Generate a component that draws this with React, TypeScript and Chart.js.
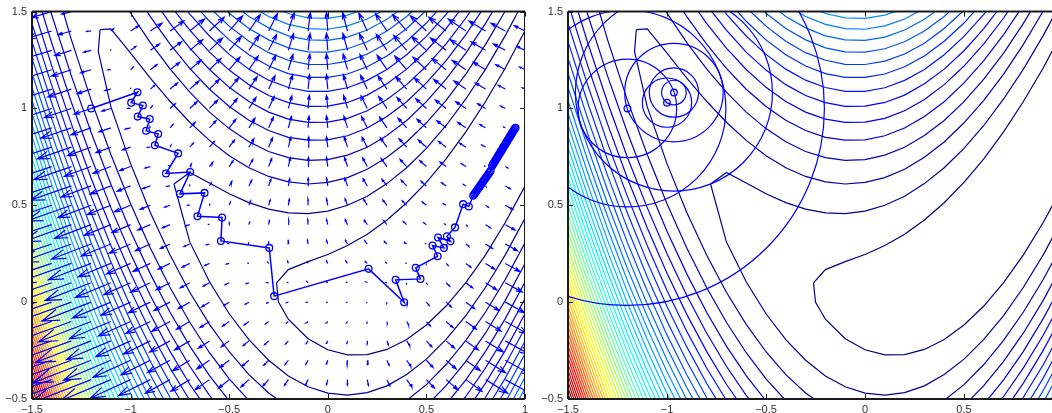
import React, { useEffect, useRef } from "react";
import { Chart, registerables } from "chart.js";

Chart.register(...registerables);

// ---- tick labels
const xTicks = [-1.5, -1, -0.5, 0, 0.5, 1];
const yTicks = [-0.5, 0, 0.5, 1, 1.5];
const levelCount = 50;

// ---- contour branches: [level, first x, y at x, y at x+0.1, ...]
const lowerRows: number[][] = [
  [1, -0.2, -0.088, -0.189, -0.246, -0.272, -0.271, -0.244, -0.193, -0.118, -0.02, 0.101, 0.244, 0.411, 0.599],
  [2, -0.7, 0.311, 0.105, -0.06, -0.194, -0.3, -0.381, -0.437, -0.47, -0.48, -0.467, -0.432, -0.374, -0.294, -0.192, -0.069, 0.077, 0.244, 0.433],
  [3, -1.1, 1.009, 0.715, 0.463, 0.243, 0.051, -0.115, -0.256, -0.374, -0.469, -0.541, -0.59, -0.618, -0.623, -0.606, -0.568, -0.507, -0.426, -0.322, -0.197, -0.051, 0.117, 0.306],
  [4, -1.4, 1.703, 1.354, 1.043, 0.762, 0.508, 0.28, 0.076, -0.104, -0.261, -0.396, -0.508],
  [4, 0.4, -0.618, -0.535, -0.431, -0.306, -0.159, 0.009, 0.199],
  [5, -1.5, 1.829, 1.484, 1.167, 0.876, 0.609, 0.366, 0.146, -0.052, -0.227, -0.379, -0.51],
  [5, 0.5, -0.632, -0.527, -0.401, -0.254, -0.085, 0.104],
  [6, -1.5, 1.669, 1.338, 1.031, 0.748, 0.488, 0.25, 0.034, -0.159, -0.331, -0.481, -0.609],
  [6, 0.6, -0.613, -0.487, -0.339, -0.171, 0.019],
  [7, -1.5, 1.544, 1.22, 0.919, 0.64, 0.384, 0.149, -0.063, -0.254, -0.424, -0.571],
  [7, 0.6, -0.692, -0.566, -0.418, -0.249, -0.06],
  [8, -1.5, 1.438, 1.119, 0.821, 0.546, 0.292, 0.06, -0.151, -0.34, -0.507],
  [8, 0.7, -0.639, -0.491, -0.323, -0.133],
  [9, -1.5, 1.345, 1.028, 0.733, 0.46, 0.208, -0.022, -0.231, -0.419, -0.585],
  [9, 0.7, -0.708, -0.56, -0.392, -0.202],
  [10, -1.5, 1.26, 0.946, 0.653, 0.381, 0.131, -0.098, -0.305, -0.492, -0.657],
  [10, 0.7, -0.773, -0.625, -0.456, -0.267],
  [11, -1.5, 1.182, 0.869, 0.578, 0.308, 0.059, -0.169, -0.375, -0.561],
  [11, 0.8, -0.687, -0.518, -0.329],
  [12, -1.5, 1.109, 0.798, 0.508, 0.239, -0.009, -0.235, -0.441, -0.626],
  [12, 0.8, -0.746, -0.577, -0.388],
  [13, -1.5, 1.041, 0.731, 0.442, 0.174, -0.073, -0.299, -0.504, -0.688],
  [13, 0.8, -0.804, -0.634, -0.444],
  [14, -1.5, 0.976, 0.667, 0.379, 0.112, -0.134, -0.359, -0.563],
  [14, 0.9, -0.689, -0.499],
  [15, -1.5, 0.915, 0.607, 0.319, 0.053, -0.192, -0.417, -0.621],
  [16, -1.5, 0.856, 0.549, 0.262, -0.004, -0.248, -0.472, -0.676],
  [17, -1.5, 0.8, 0.493, 0.207, -0.058, -0.302, -0.526],
  [18, -1.5, 0.745, 0.439, 0.154, -0.111, -0.355, -0.578],
  [19, -1.5, 0.693, 0.387, 0.102, -0.162, -0.405, -0.628],
  [20, -1.5, 0.642, 0.337, 0.053, -0.211, -0.454, -0.676],
  [21, -1.5, 0.593, 0.288, 0.004, -0.259, -0.502],
  [22, -1.5, 0.545, 0.241, -0.043, -0.306, -0.548],
  [23, -1.5, 0.499, 0.195, -0.088, -0.351, -0.593],
  [24, -1.5, 0.454, 0.15, -0.133, -0.395, -0.637],
  [25, -1.5, 0.409, 0.106, -0.176, -0.438, -0.68],
  [26, -1.5, 0.366, 0.063, -0.219, -0.481, -0.722],
  [27, -1.5, 0.324, 0.022, -0.261, -0.522],
  [28, -1.5, 0.283, -0.019, -0.301, -0.562],
  [29, -1.5, 0.243, -0.06, -0.341, -0.602],
  [30, -1.5, 0.203, -0.099, -0.38, -0.641],
  [31, -1.5, 0.164, -0.138, -0.419, -0.679],
  [32, -1.5, 0.126, -0.175, -0.456, -0.717],
  [33, -1.5, 0.089, -0.213, -0.493, -0.754],
  [34, -1.5, 0.052, -0.249, -0.53],
  [35, -1.5, 0.016, -0.285, -0.566],
  [36, -1.5, -0.02, -0.321, -0.601],
  [37, -1.5, -0.055, -0.356, -0.636],
  [38, -1.5, -0.09, -0.39, -0.67],
  [39, -1.5, -0.124, -0.424, -0.704],
  [40, -1.5, -0.157, -0.457, -0.737],
  [41, -1.5, -0.19, -0.49, -0.77],
  [42, -1.5, -0.223, -0.523],
  [43, -1.5, -0.255, -0.555],
  [44, -1.5, -0.287, -0.587],
  [45, -1.5, -0.319, -0.618],
  [46, -1.5, -0.35, -0.649],
  [47, -1.5, -0.38, -0.68],
  [48, -1.5, -0.411, -0.71],
  [49, -1.5, -0.441, -0.74],
  [50, -1.5, -0.47, -0.769],
];

const upperRows: number[][] = [
  [1, -0.2, 0.168, 0.209, 0.246, 0.292, 0.351, 0.424, 0.513, 0.618, 0.74, 0.879, 1.036, 1.209, 1.401],
  [2, -0.7, 0.669, 0.615, 0.56, 0.514, 0.48, 0.461, 0.457, 0.47, 0.5, 0.547, 0.612, 0.694, 0.794, 0.912, 1.049, 1.203, 1.376, 1.567],
  [3, -1.1, 1.411, 1.285, 1.157, 1.037, 0.929, 0.835, 0.756, 0.694, 0.649, 0.621, 0.61, 0.618, 0.643, 0.686, 0.748, 0.827, 0.926, 1.042, 1.177, 1.331, 1.503],
  [4, -1.1, 1.658, 1.492, 1.34, 1.204, 1.084, 0.981, 0.896, 0.828, 0.778, 0.746, 0.732, 0.736, 0.759, 0.8, 0.86, 0.938, 1.035, 1.151, 1.286, 1.439, 1.611],
  [5, -1.0, 1.634, 1.474, 1.332, 1.207, 1.099, 1.01, 0.939, 0.886, 0.851, 0.836, 0.838, 0.859, 0.899, 0.958, 1.035, 1.132, 1.247, 1.381, 1.534],
  [6, -0.9, 1.586, 1.439, 1.311, 1.201, 1.109, 1.036, 0.981, 0.945, 0.928, 0.929, 0.949, 0.988, 1.046, 1.123, 1.219, 1.333, 1.467, 1.619],
  [7, -0.8, 1.534, 1.404, 1.291, 1.198, 1.123, 1.067, 1.03, 1.011, 1.012, 1.031, 1.069, 1.127, 1.203, 1.298, 1.412, 1.546],
  [8, -0.8, 1.62, 1.487, 1.374, 1.279, 1.203, 1.146, 1.108, 1.088, 1.088, 1.107, 1.145, 1.201, 1.277, 1.372, 1.486, 1.619],
  [9, -0.7, 1.565, 1.45, 1.354, 1.277, 1.219, 1.18, 1.16, 1.16, 1.178, 1.215, 1.271, 1.347, 1.441, 1.555],
  [10, -0.6, 1.521, 1.425, 1.347, 1.288, 1.249, 1.228, 1.227, 1.244, 1.281, 1.337, 1.413, 1.507],
  [11, -0.6, 1.589, 1.491, 1.413, 1.354, 1.313, 1.292, 1.291, 1.308, 1.344, 1.4, 1.475, 1.569],
  [12, -0.5, 1.554, 1.475, 1.416, 1.375, 1.354, 1.351, 1.368, 1.405, 1.46, 1.535],
  [13, -0.5, 1.614, 1.535, 1.475, 1.434, 1.412, 1.409, 1.426, 1.462, 1.517],
  [14, -0.4, 1.592, 1.532, 1.49, 1.468, 1.465, 1.482, 1.517],
];

// where the closed contours turn round: [level, x, y] placed before the branch's grid points
const lowerLead: number[][] = [
  [1, -0.26, 0.1], [1, -0.25, 0],
  [2, -0.78, 0.61],
  [3, -1.155, 1.407], [3, -1.164, 1.294],
];
const upperLead: number[][] = [
  [1, -0.26, 0.1],
  [2, -0.78, 0.61],
  [3, -1.155, 1.407],
];

// ---- arrow field on a 0.1 grid
const fieldX = [-1.5, -1.4, -1.3, -1.2, -1.1, -1, -0.9, -0.8, -0.7, -0.6, -0.5, -0.4, -0.3, -0.2, -0.1, 0, 0.1, 0.2, 0.3, 0.4, 0.5, 0.6, 0.7, 0.8, 0.9, 1];
const fieldY = [-0.5, -0.4, -0.3, -0.2, -0.1, 0, 0.1, 0.2, 0.3, 0.4, 0.5, 0.6, 0.7, 0.8, 0.9, 1, 1.1, 1.2, 1.3, 1.4, 1.5];
const fieldU: number[][] = [
  [-1700,-1426,-1185,-975,-794,-640,-510,-401,-311,-238,-180,-134,-97,-67,-42,-20,2,27,57,94,140,198,271,361,470,600],
  [-1640,-1370,-1133,-927,-750,-600,-474,-369,-283,-214,-160,-118,-85,-59,-38,-20,-2,19,45,78,120,174,243,329,434,560],
  [-1580,-1314,-1081,-879,-706,-560,-438,-337,-255,-190,-140,-102,-73,-51,-34,-20,-6,11,33,62,100,150,215,297,398,520],
  [-1520,-1258,-1029,-831,-662,-520,-402,-305,-227,-166,-120,-86,-61,-43,-30,-20,-10,3,21,46,80,126,187,265,362,480],
  [-1460,-1202,-977,-783,-618,-480,-366,-273,-199,-142,-100,-70,-49,-35,-26,-20,-14,-5,9,30,60,102,159,233,326,440],
  [-1400,-1146,-925,-735,-574,-440,-330,-241,-171,-118,-80,-54,-37,-27,-22,-20,-18,-13,-3,14,40,78,131,201,290,400],
  [-1340,-1090,-873,-687,-530,-400,-294,-209,-143,-94,-60,-38,-25,-19,-18,-20,-22,-21,-15,-2,20,54,103,169,254,360],
  [-1280,-1034,-821,-639,-486,-360,-258,-177,-115,-70,-40,-22,-13,-11,-14,-20,-26,-29,-27,-18,0,30,75,137,218,320],
  [-1220,-978,-769,-591,-442,-320,-222,-145,-87,-46,-20,-6,-1,-3,-10,-20,-30,-37,-39,-34,-20,6,47,105,182,280],
  [-1160,-922,-717,-543,-398,-280,-186,-113,-59,-22,0,10,11,5,-6,-20,-34,-45,-51,-50,-40,-18,19,73,146,240],
  [-1100,-866,-665,-495,-354,-240,-150,-81,-31,2,20,26,23,13,-2,-20,-38,-53,-63,-66,-60,-42,-9,41,110,200],
  [-1040,-810,-613,-447,-310,-200,-114,-49,-3,26,40,42,35,21,2,-20,-42,-61,-75,-82,-80,-66,-37,9,74,160],
  [-980,-754,-561,-399,-266,-160,-78,-17,25,50,60,58,47,29,6,-20,-46,-69,-87,-98,-100,-90,-65,-23,38,120],
  [-920,-698,-509,-351,-222,-120,-42,15,53,74,80,74,59,37,10,-20,-50,-77,-99,-114,-120,-114,-93,-55,2,80],
  [-860,-642,-457,-303,-178,-80,-6,47,81,98,100,90,71,45,14,-20,-54,-85,-111,-130,-140,-138,-121,-87,-34,40],
  [-800,-586,-405,-255,-134,-40,30,79,109,122,120,106,83,53,18,-20,-58,-93,-123,-146,-160,-162,-149,-119,-70,0],
  [-740,-530,-353,-207,-90,0,66,111,137,146,140,122,95,61,22,-20,-62,-101,-135,-162,-180,-186,-177,-151,-106,-40],
  [-680,-474,-301,-159,-46,40,102,143,165,170,160,138,107,69,26,-20,-66,-109,-147,-178,-200,-210,-205,-183,-142,-80],
  [-620,-418,-249,-111,-2,80,138,175,193,194,180,154,119,77,30,-20,-70,-117,-159,-194,-220,-234,-233,-215,-178,-120],
  [-560,-362,-197,-63,42,120,174,207,221,218,200,170,131,85,34,-20,-74,-125,-171,-210,-240,-258,-261,-247,-214,-160],
  [-500,-306,-145,-15,86,160,210,239,249,242,220,186,143,93,38,-20,-78,-133,-183,-226,-260,-282,-289,-279,-250,-200],
];
const fieldV: number[][] = [
  [-550,-492,-438,-388,-342,-300,-262,-228,-198,-172,-150,-132,-118,-108,-102,-100,-102,-108,-118,-132,-150,-172,-198,-228,-262,-300],
  [-530,-472,-418,-368,-322,-280,-242,-208,-178,-152,-130,-112,-98,-88,-82,-80,-82,-88,-98,-112,-130,-152,-178,-208,-242,-280],
  [-510,-452,-398,-348,-302,-260,-222,-188,-158,-132,-110,-92,-78,-68,-62,-60,-62,-68,-78,-92,-110,-132,-158,-188,-222,-260],
  [-490,-432,-378,-328,-282,-240,-202,-168,-138,-112,-90,-72,-58,-48,-42,-40,-42,-48,-58,-72,-90,-112,-138,-168,-202,-240],
  [-470,-412,-358,-308,-262,-220,-182,-148,-118,-92,-70,-52,-38,-28,-22,-20,-22,-28,-38,-52,-70,-92,-118,-148,-182,-220],
  [-450,-392,-338,-288,-242,-200,-162,-128,-98,-72,-50,-32,-18,-8,-2,0,-2,-8,-18,-32,-50,-72,-98,-128,-162,-200],
  [-430,-372,-318,-268,-222,-180,-142,-108,-78,-52,-30,-12,2,12,18,20,18,12,2,-12,-30,-52,-78,-108,-142,-180],
  [-410,-352,-298,-248,-202,-160,-122,-88,-58,-32,-10,8,22,32,38,40,38,32,22,8,-10,-32,-58,-88,-122,-160],
  [-390,-332,-278,-228,-182,-140,-102,-68,-38,-12,10,28,42,52,58,60,58,52,42,28,10,-12,-38,-68,-102,-140],
  [-370,-312,-258,-208,-162,-120,-82,-48,-18,8,30,48,62,72,78,80,78,72,62,48,30,8,-18,-48,-82,-120],
  [-350,-292,-238,-188,-142,-100,-62,-28,2,28,50,68,82,92,98,100,98,92,82,68,50,28,2,-28,-62,-100],
  [-330,-272,-218,-168,-122,-80,-42,-8,22,48,70,88,102,112,118,120,118,112,102,88,70,48,22,-8,-42,-80],
  [-310,-252,-198,-148,-102,-60,-22,12,42,68,90,108,122,132,138,140,138,132,122,108,90,68,42,12,-22,-60],
  [-290,-232,-178,-128,-82,-40,-2,32,62,88,110,128,142,152,158,160,158,152,142,128,110,88,62,32,-2,-40],
  [-270,-212,-158,-108,-62,-20,18,52,82,108,130,148,162,172,178,180,178,172,162,148,130,108,82,52,18,-20],
  [-250,-192,-138,-88,-42,0,38,72,102,128,150,168,182,192,198,200,198,192,182,168,150,128,102,72,38,0],
  [-230,-172,-118,-68,-22,20,58,92,122,148,170,188,202,212,218,220,218,212,202,188,170,148,122,92,58,20],
  [-210,-152,-98,-48,-2,40,78,112,142,168,190,208,222,232,238,240,238,232,222,208,190,168,142,112,78,40],
  [-190,-132,-78,-28,18,60,98,132,162,188,210,228,242,252,258,260,258,252,242,228,210,188,162,132,98,60],
  [-170,-112,-58,-8,38,80,118,152,182,208,230,248,262,272,278,280,278,272,262,248,230,208,182,152,118,80],
  [-150,-92,-38,12,58,100,138,172,202,228,250,268,282,292,298,300,298,292,282,268,250,228,202,172,138,100],
];
const arrowScale = 0.00034;

// ---- left panel: iterates of the descent path
const pathX = [-1.2,-0.965,-0.997,-0.938,-0.964,-0.903,-0.921,-0.86,-0.877,-0.759,-0.821,-0.698,-0.75,-0.625,-0.661,-0.536,-0.542,-0.297,-0.272,0.207,0.387,0.344,0.47,0.446,0.557,0.531,0.589,0.559,0.622,0.604,0.645,0.686,0.715,0.737,0.742,0.747,0.752,0.757,0.762,0.767,0.772,0.777,0.782,0.787,0.792,0.797,0.802,0.807,0.812,0.817,0.822,0.826,0.833,0.837,0.841,0.845,0.849,0.853,0.857,0.861,0.865,0.869,0.873,0.877,0.881,0.885,0.889,0.893,0.897,0.901,0.905,0.909,0.913,0.917,0.921,0.925,0.929,0.933,0.937,0.941,0.945,0.949,0.952];
const pathY = [1,1.084,1.03,1.015,0.958,0.945,0.885,0.868,0.81,0.768,0.664,0.672,0.559,0.564,0.443,0.437,0.316,0.28,0.031,0.172,-0.001,0.115,0.12,0.177,0.237,0.292,0.28,0.334,0.314,0.34,0.386,0.506,0.494,0.549,0.556,0.563,0.57,0.578,0.585,0.592,0.6,0.607,0.614,0.621,0.629,0.636,0.643,0.65,0.658,0.665,0.672,0.678,0.703,0.71,0.716,0.723,0.73,0.737,0.743,0.75,0.757,0.763,0.77,0.777,0.783,0.79,0.797,0.803,0.81,0.817,0.823,0.83,0.837,0.843,0.85,0.857,0.863,0.87,0.877,0.883,0.89,0.896,0.9];

// ---- right panel: iterates and trust-region circles
const iterX = [-1.2, -0.965, -1];
const iterY = [1, 1.082, 1.03];
const circleX = [-1.2, -1.2, -1.2, -0.965, -0.965, -0.965, -0.965, -1];
const circleY = [1, 1, 1, 1.082, 1.082, 1.082, 1.082, 1.03];
const circleR = [0.25, 0.5, 1, 0.0625, 0.125, 0.25, 0.5, 0.125];
const pixelsPerUnit = 197;

const BLUE = "#0000ff";
const clamp = (v: number) => Math.max(0, Math.min(1, v));
function jet(k: number) {
  const t = (k - 1) / (levelCount - 1);
  const r = clamp(1.5 - Math.abs(4 * t - 3));
  const g = clamp(1.5 - Math.abs(4 * t - 2));
  const b = clamp(1.5 - Math.abs(4 * t - 1));
  return `rgb(${Math.round(r * 255)},${Math.round(g * 255)},${Math.round(b * 255)})`;
}

function branchDatasets(rows: number[][], lead: number[][]) {
  return rows.map((row, idx) => {
    const k = row[0];
    const x0 = row[1];
    const pts: { x: number; y: number }[] = [];
    if (rows.findIndex((r) => r[0] === k) === idx) {
      lead.filter((l) => l[0] === k).forEach((l) => pts.push({ x: l[1], y: l[2] }));
    }
    row.slice(2).forEach((y, i) => pts.push({ x: Math.round((x0 + i * 0.1) * 10) / 10, y }));
    return {
      data: pts,
      borderColor: jet(k),
      borderWidth: 1.2,
      pointRadius: 0,
      showLine: true,
      tension: 0,
      clip: 0,
      order: 3,
    };
  });
}

function contourDatasets() {
  return [...branchDatasets(lowerRows, lowerLead), ...branchDatasets(upperRows, upperLead)];
}

function arrowDataset() {
  const a = 0.33;
  const b = 0.33;
  const pts: { x: number; y: number }[] = [];
  fieldY.forEach((y, r) => {
    fieldX.forEach((x, c) => {
      const u = fieldU[r][c] * arrowScale;
      const v = fieldV[r][c] * arrowScale;
      const tx = x + u;
      const ty = y + v;
      pts.push({ x, y }, { x: tx, y: ty }, { x: NaN, y: NaN });
      pts.push({ x: tx - a * (u + b * v), y: ty - a * (v - b * u) });
      pts.push({ x: tx, y: ty });
      pts.push({ x: tx - a * (u - b * v), y: ty - a * (v + b * u) });
      pts.push({ x: NaN, y: NaN });
    });
  });
  return {
    data: pts,
    borderColor: BLUE,
    borderWidth: 1.2,
    pointRadius: 0,
    showLine: true,
    spanGaps: false,
    tension: 0,
    clip: 0,
    order: 2,
  };
}

const frame = {
  id: "frame",
  afterDatasetsDraw(chart: any) {
    const { ctx, chartArea: a, scales } = chart;
    ctx.save();
    ctx.strokeStyle = "#1a1a1a";
    ctx.lineWidth = 1;
    ctx.beginPath();
    scales.x.ticks.forEach((_: any, i: number) => {
      const p = Math.round(scales.x.getPixelForTick(i)) + 0.5;
      ctx.moveTo(p, a.bottom);
      ctx.lineTo(p, a.bottom - 5);
      ctx.moveTo(p, a.top);
      ctx.lineTo(p, a.top + 5);
    });
    scales.y.ticks.forEach((_: any, i: number) => {
      const p = Math.round(scales.y.getPixelForTick(i)) + 0.5;
      ctx.moveTo(a.left, p);
      ctx.lineTo(a.left + 5, p);
      ctx.moveTo(a.right, p);
      ctx.lineTo(a.right - 5, p);
    });
    ctx.moveTo(a.right - 0.5, a.top);
    ctx.lineTo(a.right - 0.5, a.bottom);
    ctx.stroke();
    ctx.lineWidth = 2;
    ctx.beginPath();
    ctx.moveTo(a.left, a.bottom);
    ctx.lineTo(a.right, a.bottom);
    ctx.moveTo(a.left, a.top);
    ctx.lineTo(a.right, a.top);
    ctx.moveTo(a.left, a.top);
    ctx.lineTo(a.left, a.bottom);
    ctx.stroke();
    ctx.restore();
  },
};

function tickLabel(v: number) {
  return v < 0 ? "\u2212" + Math.abs(v) : String(v);
}

function makeChart(canvas: HTMLCanvasElement, datasets: any[], rightPad: number) {
  const font = { family: "'Liberation Sans', Arial, sans-serif", size: 11 };
  return new Chart(canvas, {
    type: "scatter",
    data: { datasets },
    plugins: [frame],
    options: {
      responsive: false,
      animation: false,
      events: [],
      layout: { autoPadding: false, padding: { top: 10, left: 0, bottom: 0, right: rightPad } },
      plugins: { legend: { display: false }, tooltip: { enabled: false } },
      scales: {
        x: {
          type: "linear",
          min: -1.5,
          max: 1,
          afterBuildTicks: (s: any) => { s.ticks = xTicks.map((value) => ({ value })); },
          afterFit: (s: any) => { s.height = 14; },
          grid: { display: false, drawTicks: false },
          border: { display: false },
          ticks: { color: "#333", font, padding: 4, maxRotation: 0, autoSkip: false, callback: tickLabel },
        },
        y: {
          type: "linear",
          min: -0.5,
          max: 1.5,
          afterBuildTicks: (s: any) => { s.ticks = yTicks.map((value) => ({ value })); },
          afterFit: (s: any) => { s.width = 32; },
          grid: { display: false, drawTicks: false },
          border: { display: false },
          ticks: { color: "#333", font, padding: 5, autoSkip: false, callback: tickLabel },
        },
      },
    } as any,
  });
}

export default function App() {
  const leftRef = useRef<HTMLCanvasElement>(null);
  const rightRef = useRef<HTMLCanvasElement>(null);

  useEffect(() => {
    document.body.style.overflow = "hidden";
    const left = makeChart(
      leftRef.current!,
      [
        ...contourDatasets(),
        arrowDataset(),
        {
          data: pathX.map((x, i) => ({ x, y: pathY[i] })),
          borderColor: BLUE,
          borderWidth: 1.5,
          showLine: true,
          tension: 0,
          pointRadius: 3.4,
          pointBorderWidth: 1.3,
          pointBorderColor: BLUE,
          pointBackgroundColor: "rgba(0,0,0,0)",
          clip: 0,
          order: 1,
        },
      ],
      11
    );
    const right = makeChart(
      rightRef.current!,
      [
        ...contourDatasets(),
        {
          data: circleX.map((x, i) => ({ x, y: circleY[i] })),
          showLine: false,
          pointRadius: (ctx: any) => (circleR[ctx.dataIndex] ?? 0) * pixelsPerUnit,
          pointBorderWidth: 1.2,
          pointBorderColor: BLUE,
          pointBackgroundColor: "rgba(0,0,0,0)",
          clip: 0,
          order: 2,
        },
        {
          data: iterX.map((x, i) => ({ x, y: iterY[i] })),
          showLine: false,
          pointRadius: 3.3,
          pointBorderWidth: 1.3,
          pointBorderColor: BLUE,
          pointBackgroundColor: "rgba(0,0,0,0)",
          clip: 0,
          order: 1,
        },
      ],
      13
    );
    return () => {
      left.destroy();
      right.destroy();
    };
  }, []);

  return (
    <div style={{ position: "fixed", left: 0, top: 0, width: 1052, height: 413, overflow: "hidden", background: "#fff" }}>
      <canvas ref={leftRef} width={536} height={413} style={{ position: "absolute", left: 0, top: 0 }} />
      <canvas ref={rightRef} width={540} height={413} style={{ position: "absolute", left: 536, top: 0 }} />
    </div>
  );
}
